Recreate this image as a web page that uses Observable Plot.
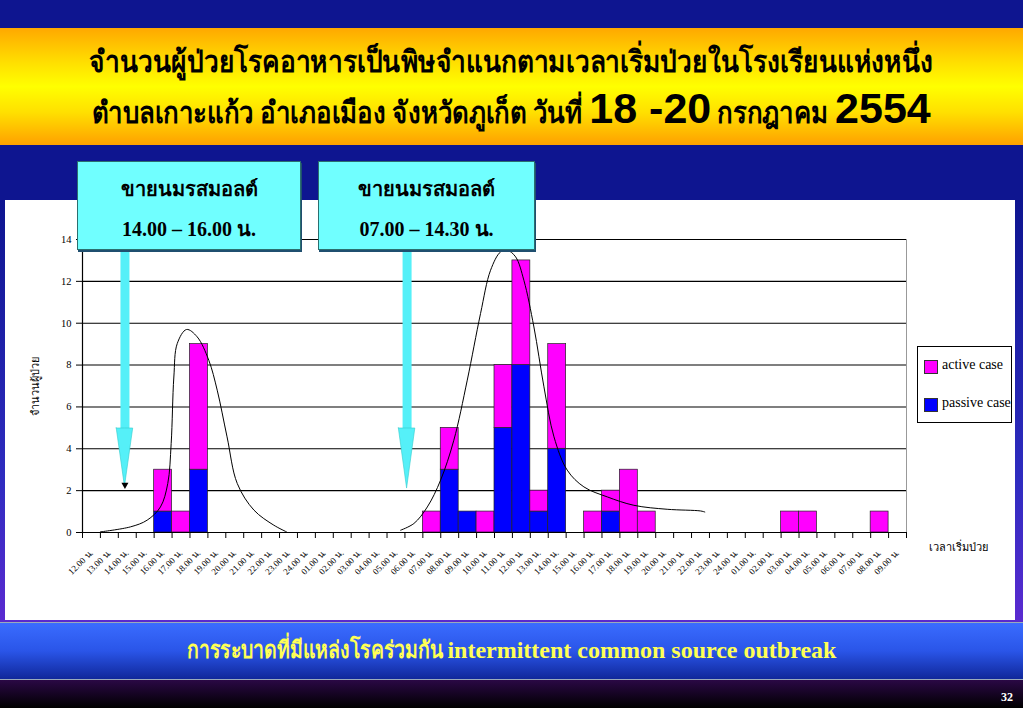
<!DOCTYPE html>
<html><head><meta charset="utf-8">
<script src="https://cdn.jsdelivr.net/npm/d3@7"></script>
<script src="https://cdn.jsdelivr.net/npm/@observablehq/plot@0.6"></script>
<style>
body{margin:0;background:#000;}
#slide{position:relative;width:1023px;height:708px;overflow:hidden;
 background:linear-gradient(to bottom,#0E1590 0px,#0E1590 200px,#2f2cc0 480px,#5a2ad0 620px,#2a0845 680px,#000 708px);
 font-family:"Liberation Serif","Times New Roman",serif;}
#titleband{position:absolute;left:0;top:28px;width:1023px;height:117px;
 background:linear-gradient(to bottom,#FFA800 0%,#FFE000 30%,#FFFF00 50%,#FFE000 72%,#FFA000 100%);
 text-align:center;color:#000;font-weight:bold;}
#titleband .l1{position:absolute;left:0;right:0;top:14px;font-size:30px;line-height:40px;white-space:nowrap;}
#titleband .l2{position:absolute;left:0;right:0;top:56px;font-size:30px;line-height:48px;white-space:nowrap;}
#titleband .big{font-family:"Liberation Sans",Arial,sans-serif;font-size:43px;}
#panel{position:absolute;left:5px;top:200px;width:1010px;height:420px;background:#fff;}
.callout{position:absolute;top:161px;height:89px;background:#70FFFF;border:1px solid #2b6f6f;
 box-shadow:1px 2px 0 #1f4f6f;font-weight:bold;font-size:20px;text-align:center;color:#000;box-sizing:border-box;}
.callout div{position:absolute;left:0;right:0;}
#legend{position:absolute;left:917px;top:346px;width:95px;height:77px;background:#fff;border:1px solid #000;box-sizing:border-box;font-size:14px;}
#legend .sw{position:absolute;left:6px;width:12px;height:12px;border:1px solid #333;}
#legend .lb{position:absolute;left:24px;white-space:nowrap;}
#bottombar{position:absolute;left:0;top:622px;width:1023px;height:58px;
 background:linear-gradient(to bottom,#3a6cff 0%,#2a55e8 50%,#10279a 100%);border-top:1px solid #9ab;border-bottom:1px solid #9ab;box-sizing:border-box;
 color:#FFFF55;font-weight:bold;font-size:24px;text-align:center;line-height:54px;white-space:nowrap;}
#pagenum{position:absolute;right:10px;top:690px;color:#fff;font-weight:bold;font-size:12px;}
.thai{display:inline-block;transform-origin:0 50%;}
</style></head><body>
<div id="slide">
 <div id="titleband">
  <div class="l1"><span class="thai" data-s="0.875">จำนวนผู้ป่วยโรคอาหารเป็นพิษจำแนกตามเวลาเริ่มป่วยในโรงเรียนแห่งหนึ่ง</span></div>
  <div class="l2"><span class="thai" data-s="0.86">ตำบลเกาะแก้ว อำเภอเมือง จังหวัดภูเก็ต วันที่&nbsp;</span><span class="big">18 -20</span><span class="thai" data-s="0.86">&nbsp;กรกฎาคม&nbsp;</span><span class="big">2554</span></div>
 </div>
 <div id="panel"></div>
 <div id="callouts"></div>
 <div id="legend"></div>
 <div id="bottombar"><span class="thai" data-s="0.81">การระบาดที่มีแหล่งโรคร่วมกัน&nbsp;</span>intermittent common source outbreak</div>
 <div id="pagenum">32</div>
</div>
<script>
// ---- data ----
const timeLabels = [
 "12.00 น.","13.00 น.","14.00 น.","15.00 น.","16.00 น.","17.00 น.","18.00 น.","19.00 น.","20.00 น.","21.00 น.","22.00 น.","23.00 น.","24.00 น.",
 "01.00 น.","02.00 น.","03.00 น.","04.00 น.","05.00 น.","06.00 น.","07.00 น.","08.00 น.","09.00 น.","10.00 น.","11.00 น.","12.00 น.",
 "13.00 น.","14.00 น.","15.00 น.","16.00 น.","17.00 น.","18.00 น.","19.00 น.","20.00 น.","21.00 น.","22.00 น.","23.00 น.","24.00 น.",
 "01.00 น.","02.00 น.","03.00 น.","04.00 น.","05.00 น.","06.00 น.","07.00 น.","08.00 น.","09.00 น."];
const passiveCases = [0,0,0,0,1,0,3, 0,0,0,0,0,0,0,0,0,0,0,0, 0,3,1,0,5,8,1,4,0,0,1, 0,0,0,0,0,0,0,0,0,0,0,0,0,0,0,0];
const activeCases  = [0,0,0,0,2,1,6, 0,0,0,0,0,0,0,0,0,0,0,0, 1,2,0,1,3,5,1,5,0,1,1,3,1, 0,0,0,0,0,0,0, 1,1, 0,0,0, 1,0];
const seriesNames = ["active case","passive case"];
const seriesColors = ["#FF00FF","#0000FF"];
const yTicks = [0,2,4,6,8,10,12,14];
const yLabel = "จำนวนผู้ป่วย";
const xLabel = "เวลาเริ่มป่วย";
// fitted curves (x in hour slots from 12.00 of day 1, y in cases)
const curve1X = [1.0,2.68,3.61,4.35,4.76,4.95,5.10,5.29,5.81,6.40,7.05,7.52,8.07,8.64,9.57,10.68,11.39];
const curve1Y = [0.03,0.27,0.59,1.22,2.34,4.25,7.43,9.03,9.70,9.35,8.23,6.80,4.57,2.34,1.07,0.35,0.03];
const curve2X = [17.76,18.5,19.25,19.99,20.73,21.48,22.22,22.78,23.34,23.71,24.18,24.64,25.2,25.76,26.32,27.06,27.99,29.3,30.78,32.64,34.5,34.74];
const curve2Y = [0.11,0.43,1.22,2.5,4.41,7.28,10.46,12.53,13.41,13.49,13.17,12.05,9.82,6.96,4.57,2.98,2.18,1.7,1.30,1.11,1.03,0.98];
// annotation callouts: text, arrow slot and arrow-tip value
const calloutLine1 = ["ขายนมรสมอลต์","ขายนมรสมอลต์"];
const calloutLine2 = ["14.00 – 16.00 น.","07.00 – 14.30 น."];
const arrowSlot = [2.37, 18.12];
const arrowTip = [2.18, 2.1];
const arrowHeadBase = [4.97, 4.97];
const arrowTop = [13.6, 13.6];

// condense Thai spans horizontally (fallback Thai font is wider than the original)
document.querySelectorAll(".thai").forEach(el => {
  const s = +el.dataset.s;
  const w = el.offsetWidth;
  el.style.transform = `scaleX(${s})`;
  el.style.marginRight = `${-(1 - s) * w}px`;
});

// ---- build tables ----
const bars = [];
timeLabels.forEach((t, i) => {
  if (passiveCases[i] > 0) bars.push({i, t, type: "passive case", n: passiveCases[i]});
  if (activeCases[i] > 0) bars.push({i, t, type: "active case", n: activeCases[i]});
});
const curves = [
  ...curve1X.map((u, k) => ({id: 1, u, v: curve1Y[k]})),
  ...curve2X.map((u, k) => ({id: 2, u, v: curve2Y[k]}))
];
const hw = 0.46;
const heads = [];
arrowSlot.forEach((c, k) => {
  heads.push({id: k, x: c - hw, y1: arrowHeadBase[k], y2: arrowHeadBase[k]});
  heads.push({id: k, x: c, y1: arrowTip[k], y2: arrowHeadBase[k]});
  heads.push({id: k, x: c + hw, y1: arrowHeadBase[k], y2: arrowHeadBase[k]});
});
const shafts = arrowSlot.map((c, k) => ({x: c, y1: arrowHeadBase[k], y2: arrowTop[k]}));

const serif = "'Liberation Serif','Times New Roman',serif";
const chart = Plot.plot({
  width: 1010, height: 420,
  marginLeft: 77, marginRight: 109, marginTop: 39, marginBottom: 88,
  style: {fontFamily: serif, background: "transparent", color: "#000", overflow: "visible"},
  x: {domain: [0, timeLabels.length], axis: null},
  y: {domain: [0, 14], axis: null},
  color: {domain: seriesNames, range: seriesColors},
  marks: [
    Plot.ruleY(yTicks.filter(d => d > 0), {stroke: "#000", strokeWidth: 1.1}),
    Plot.ruleX([timeLabels.length], {stroke: "#999", strokeWidth: 1}),
    Plot.rectY(bars, {x1: "i", x2: d => d.i + 1, y: "n", fill: "type", stroke: "#222", strokeWidth: 0.7,
      order: ["passive case", "active case"]}),
    Plot.line(curves, {x: "u", y: "v", z: "id", curve: "catmull-rom", stroke: "#000", strokeWidth: 1}),
    Plot.ruleX(shafts, {x: "x", y1: "y1", y2: "y2", stroke: "#55F0F8", strokeWidth: 9}),
    Plot.areaY(heads, {x: "x", y1: "y1", y2: "y2", z: "id", fill: "#55F0F8", stroke: "#3cc", strokeWidth: 0.6, curve: "linear"}),
    Plot.dot([{x: arrowSlot[0], y: arrowTip[0]}], {x: "x", y: "y", symbol: "triangle", rotate: 180, r: 2.6, fill: "#000", dy: -2}),
    Plot.ruleX([0], {stroke: "#000", strokeWidth: 1.2}),
    Plot.ruleY([0], {stroke: "#000", strokeWidth: 1.2}),
    Plot.axisY({ticks: yTicks, tickSize: 6, tickPadding: 5, fontSize: 10.5, tickFormat: d => d, stroke: "#000"}),
    Plot.axisX({ticks: d3.range(0, timeLabels.length + 1), tickSize: 6, tickFormat: () => "", stroke: "#000"}),
    Plot.axisX({ticks: timeLabels.map((_, i) => i + 0.5), tickSize: 0, tickPadding: 19, tickRotate: -45, fontSize: 9,
      tickFormat: v => timeLabels[Math.floor(v)]}),
    Plot.text([yLabel], {text: d => d, frameAnchor: "left", textAnchor: "middle", dx: -47, rotate: -90, fontSize: 11}),
    Plot.text([xLabel], {text: d => d, x: timeLabels.length, y: 0, dx: 22, dy: 15, textAnchor: "start", fontSize: 11})
  ]
});
document.getElementById("panel").appendChild(chart);

// callout boxes
const calloutLeft = [77, 318], calloutWidth = [224, 217];
const co = document.getElementById("callouts");
calloutLine1.forEach((t, k) => {
  const b = document.createElement("div");
  b.className = "callout";
  b.style.left = calloutLeft[k] + "px";
  b.style.width = calloutWidth[k] + "px";
  b.innerHTML = `<div style="top:11px">${t}</div><div style="top:51px">${calloutLine2[k]}</div>`;
  co.appendChild(b);
});
// legend
const lg = document.getElementById("legend");
seriesNames.forEach((s, k) => {
  const top = 13 + k * 38;
  lg.insertAdjacentHTML("beforeend",
    `<div class="sw" style="top:${top}px;background:${seriesColors[k]}"></div><div class="lb" style="top:${top - 3}px">${s}</div>`);
});
</script>
</body></html>
